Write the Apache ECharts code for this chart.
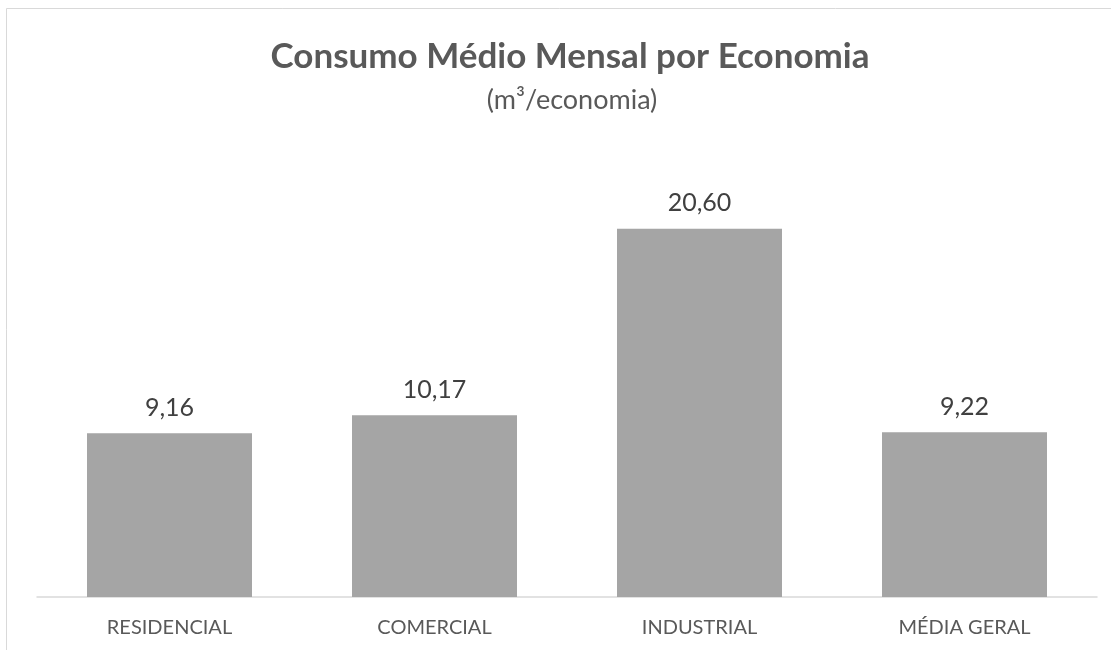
<!DOCTYPE html>
<html><head><meta charset="utf-8">
<script src="https://cdn.jsdelivr.net/npm/echarts@6/dist/echarts.min.js"></script>
<style>html,body{margin:0;padding:0;background:#fff}#c{width:1111px;height:650px}</style>
</head><body><div id="c"></div>
<script>
const categories = ['RESIDENCIAL', 'COMERCIAL', 'INDUSTRIAL', 'MÉDIA GERAL'];
const values = [9.16, 10.17, 20.60, 9.22];
const titleText = 'Consumo Médio Mensal por Economia';
const subtitleText = '(m³/economia)';

const chart = echarts.init(document.getElementById('c'));
chart.setOption({
  animation: false,
  backgroundColor: '#fff',
  graphic: [{
    type: 'rect', left: 4, top: 6, z: -1,
    shape: { width: 1200, height: 700 },
    style: { fill: 'none', stroke: '#D9D9D9', lineWidth: 1 }
  }],
  title: [{
    text: titleText, left: 565, top: 34, textAlign: 'center',
    textStyle: { fontFamily: 'Lato', fontWeight: 'bold', fontSize: 35, color: '#595959' }
  }, {
    text: subtitleText, left: 567, top: 82, textAlign: 'center',
    textStyle: { fontFamily: 'Lato', fontWeight: 'normal', fontSize: 27, color: '#595959' }
  }],
  grid: { left: 37, right: 14, top: 150, bottom: 53, containLabel: false },
  xAxis: {
    type: 'category', data: categories,
    axisLine: { lineStyle: { color: '#D9D9D9', width: 1.5 } },
    axisTick: { show: false },
    axisLabel: { fontFamily: 'Lato', fontSize: 20, color: '#595959', margin: 21 }
  },
  yAxis: {
    type: 'value', min: 0, max: 25, show: false,
    splitLine: { show: false }
  },
  series: [{
    type: 'bar', data: values, barWidth: 165,
    itemStyle: { color: '#A5A5A5' },
    label: {
      show: true, position: 'top', distance: 13,
      fontFamily: 'Lato', fontSize: 25, color: '#404040',
      formatter: p => p.value.toFixed(2).replace('.', ',')
    }
  }]
});
</script></body></html>
